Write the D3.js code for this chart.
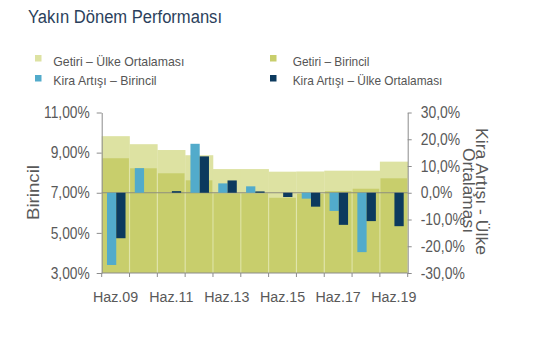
<!DOCTYPE html>
<html><head><meta charset="utf-8">
<script src="https://cdn.jsdelivr.net/npm/d3@7"></script>
<style>body{margin:0;background:#fff}svg{display:block}text{font-family:Arial,"Liberation Sans",sans-serif}</style>
</head><body><svg id="c" width="555" height="355"></svg>
<script>
const categories = ["Haz.09","Haz.10","Haz.11","Haz.12","Haz.13","Haz.14","Haz.15","Haz.16","Haz.17","Haz.18","Haz.19"];
const shownLabels = ["Haz.09","Haz.11","Haz.13","Haz.15","Haz.17","Haz.19"];
const getiriUlke     = [9.82, 9.42, 9.13, 8.87, 8.18, 8.18, 8.05, 8.06, 8.10, 8.10, 8.55];
const getiriBirincil = [8.72, 8.22, 7.97, 7.62, 6.97, 6.97, 6.75, 6.95, 7.08, 7.20, 7.72];
const kiraBirincil   = [-27.0, 9.2, 0.0, 18.3, 3.5, 2.4, 0.0, -2.2, -6.8, -22.2, 0.0];
const kiraUlke       = [-17.0, 0.0, 0.6, 13.6, 4.6, 0.5, -1.6, -5.2, -12.0, -10.6, -12.5];
const leftTicks  = [3, 5, 7, 9, 11];
const rightTicks = [-30, -20, -10, 0, 10, 20, 30];
const seriesNames = ["Getiri – Ülke Ortalaması", "Getiri – Birincil", "Kira Artışı – Birincil", "Kira Artışı – Ülke Ortalaması"];
const title = "Yakın Dönem Performansı";
const leftTitle = "Birincil";
const rightTitle = ["Kira Artışı - Ülke", "Ortalaması"];

const C = {light:"#dde2a2", olive:"#c8ce6c", blue:"#52abcb", navy:"#0c3a5e", axis:"#8c8c8c", tick:"#595959"};

const svg = d3.select("#c");
svg.append("rect").attr("width",555).attr("height",355).attr("fill","#fff");

const L = 101.7, R = 407.7, T = 112.5, B = 273;
const x = d3.scaleBand().domain(categories).range([L, R]).padding(0);
const yL = d3.scaleLinear().domain([3, 11]).range([B, T]);
const yR = d3.scaleLinear().domain([-30, 30]).range([B, T]);
const bw = x.bandwidth();
const xs = d3.scaleBand().domain(["b","u"]).range([bw*0.19, bw*0.856]);

function squeeze(sel, f){
  sel.each(function(){
    const w = this.getComputedTextLength();
    this.setAttribute("textLength", w*f);
    this.setAttribute("lengthAdjust", "spacingAndGlyphs");
  });
}

// Getiri – Ülke Ortalaması
svg.append("g").selectAll("rect").data(categories).join("rect")
  .attr("x", c => x(c)).attr("width", bw + 0.3)
  .attr("y", (c,i) => yL(getiriUlke[i])).attr("height", (c,i) => B - yL(getiriUlke[i]))
  .attr("fill", C.light);
// Getiri – Birincil
svg.append("g").selectAll("rect").data(categories).join("rect")
  .attr("x", c => x(c) + 0.6).attr("width", bw - 1.2)
  .attr("y", (c,i) => yL(getiriBirincil[i])).attr("height", (c,i) => B - yL(getiriBirincil[i]))
  .attr("fill", C.olive);

// zero line
svg.append("line").attr("x1", L).attr("x2", R).attr("y1", yR(0)).attr("y2", yR(0))
  .attr("stroke", "#8e8e7e").attr("stroke-width", 1);

// Kira bars
function kira(vals, key, color){
  svg.append("g").selectAll("rect").data(categories).join("rect")
    .attr("x", c => x(c) + xs(key)).attr("width", xs.bandwidth())
    .attr("y", (c,i) => yR(Math.max(0, vals[i])))
    .attr("height", (c,i) => Math.abs(yR(vals[i]) - yR(0)))
    .attr("fill", color);
}
kira(kiraBirincil, "b", C.blue);
kira(kiraUlke, "u", C.navy);

// Left axis
const gl = svg.append("g").attr("transform", `translate(${L},0)`)
  .call(d3.axisLeft(yL).tickValues(leftTicks).tickSize(5).tickSizeOuter(0).tickPadding(7)
    .tickFormat(d => d3.format(".2f")(d).replace(".", ",") + "%"));
// Right axis
const gr = svg.append("g").attr("transform", `translate(${R},0)`)
  .call(d3.axisRight(yR).tickValues(rightTicks).tickSize(4).tickSizeOuter(0).tickPadding(9)
    .tickFormat(d => d.toFixed(1).replace(".", ",") + "%"));
// Bottom axis
const gb = svg.append("g").attr("transform", `translate(0,${B})`)
  .call(d3.axisBottom(x).tickValues(shownLabels).tickSize(0).tickPadding(18.3));
gb.select(".domain").remove();
svg.append("line").attr("x1", L).attr("x2", R).attr("y1", B).attr("y2", B).attr("stroke", C.axis);
svg.append("g").selectAll("line").data(categories.concat(["__end"])).join("line")
  .attr("x1", c => c === "__end" ? R : x(c)).attr("x2", c => c === "__end" ? R : x(c))
  .attr("y1", B).attr("y2", B + 4).attr("stroke", C.axis);

[gl, gr, gb].forEach(g => {
  g.selectAll(".domain").attr("stroke", C.axis);
  g.selectAll(".tick line").attr("stroke", C.axis);
  g.selectAll("text").attr("fill", C.tick).attr("font-size", 16).attr("font-family", "Arial, 'Liberation Sans', sans-serif");
});
gb.selectAll("text").attr("font-size", 15.5);
squeeze(gl.selectAll("text"), 0.86);
squeeze(gr.selectAll("text"), 0.87);
squeeze(gb.selectAll("text"), 0.92);

// Axis titles
svg.append("text").attr("transform", "translate(38.5,192.5) rotate(-90)")
  .attr("text-anchor", "middle").attr("font-size", 17).attr("fill", C.tick)
  .attr("textLength", 55).attr("lengthAdjust", "spacingAndGlyphs").text(leftTitle);
svg.append("text").attr("transform", "translate(476,191.5) rotate(90)")
  .attr("text-anchor", "middle").attr("font-size", 16).attr("fill", C.tick)
  .attr("textLength", 127).attr("lengthAdjust", "spacingAndGlyphs").text(rightTitle[0]);
svg.append("text").attr("transform", "translate(462.7,190.5) rotate(90)")
  .attr("text-anchor", "middle").attr("font-size", 16).attr("fill", C.tick)
  .attr("textLength", 85).attr("lengthAdjust", "spacingAndGlyphs").text(rightTitle[1]);

// Title
svg.append("text").attr("x", 28).attr("y", 23).attr("font-size", 18).attr("fill", "#2b3f5c")
  .attr("textLength", 194).attr("lengthAdjust", "spacingAndGlyphs").text(title);

// Legend
const legColors = [C.light, C.olive, C.blue, C.navy];
const legPos = [[35, 55, 53.3, 65.5, 131], [270, 55, 292.7, 65.5, 76.7], [35, 75, 53.3, 84.5, 103.3], [270, 75, 292.7, 84.5, 149.7]];
const lg = svg.append("g");
seriesNames.forEach((n, i) => {
  const p = legPos[i];
  lg.append("rect").attr("x", p[0]).attr("y", p[1]).attr("width", 6.5).attr("height", 6.5).attr("fill", legColors[i]);
  lg.append("text").attr("x", p[2]).attr("y", p[3]).attr("font-size", 13.5).attr("fill", "#555")
    .attr("textLength", p[4]).attr("lengthAdjust", "spacingAndGlyphs").text(n);
});
</script></body></html>
